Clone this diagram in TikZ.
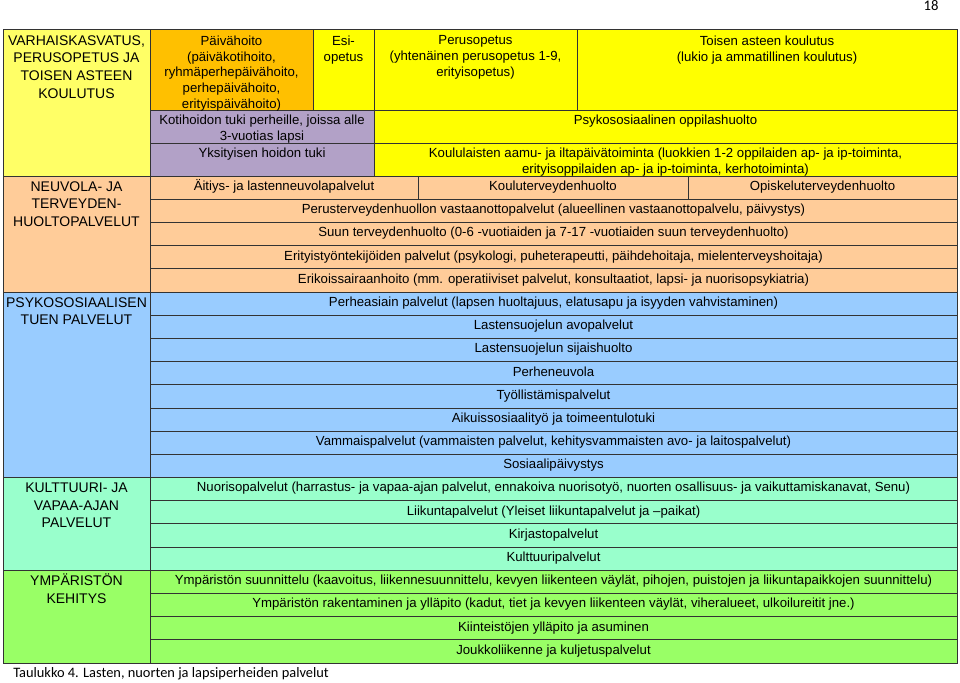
\documentclass[tikz,border=0pt]{standalone}
\usepackage{fontspec}
\setmainfont{Liberation Sans}
\newfontfamily\calibri{Carlito}
\usepackage{xcolor}
\usepackage{tikz}
\usetikzlibrary{calc, positioning}

\definecolor{vaalkelt}{HTML}{FFFF66}
\definecolor{oranssi}{HTML}{FFC000}
\definecolor{keltainen}{HTML}{FFFF00}
\definecolor{violetti}{HTML}{B2A1C7}
\definecolor{persikka}{HTML}{FFCC99}
\definecolor{sininen}{HTML}{99CCFF}
\definecolor{turkoosi}{HTML}{99FFCC}
\definecolor{vihrea}{HTML}{99FF66}

\begin{document}
\begin{tikzpicture}[x=0.75pt, y=-0.75pt,
    solu/.style={anchor=north, inner sep=0pt, align=center, font=\fontsize{9.9}{11.85}\selectfont},
    rivi/.style={anchor=base, inner sep=0pt, font=\fontsize{9.9}{11.85}\selectfont},
    otsikko/.style={anchor=north, inner sep=0pt, align=center, font=\fontsize{10.5}{13.3}\selectfont},
    viiva/.style={draw=black!80, line width=0.6pt}]
    \useasboundingbox (0,0) rectangle (960,682);

    % Taustavärit
    \fill[vaalkelt] (3,29) rectangle (150,176);
    \fill[oranssi] (150,29) rectangle (313,110);
    \fill[keltainen] (313,29) rectangle (957,110);
    \fill[violetti] (150,110) rectangle (374,176);
    \fill[keltainen] (374,110) rectangle (957,176);
    \fill[persikka] (3,176) rectangle (957,{176+23.19*5});
    \fill[sininen] (3,{176+23.19*5}) rectangle (957,{176+23.19*13});
    \fill[turkoosi] (3,{176+23.19*13}) rectangle (957,{176+23.19*17});
    \fill[vihrea] (3,{176+23.19*17}) rectangle (957,663);

    % Viivat
    \draw[viiva] (150,29) -- (150,663);
    \draw[viiva] (313,29) -- (313,110) (374,29) -- (374,176) (577,29) -- (577,110);
    \draw[viiva] (150,110) -- (957,110) (150,143) -- (957,143) (3,176) -- (957,176);
    \foreach \k in {1,...,20}
        \draw[viiva] (150,{176+23.19*\k}) -- (957,{176+23.19*\k});
    \foreach \k in {5,13,17}
        \draw[viiva] (3,{176+23.19*\k}) -- (150,{176+23.19*\k});
    \draw[viiva] (418,176) -- (418,{176+23.19}) (688,176) -- (688,{176+23.19});
    \draw[viiva] (3,29) rectangle (957,663);

    % Vasen sarake
    \node[otsikko] (varh) at (76.5,35) {VARHAISKASVATUS,\\PERUSOPETUS JA\\TOISEN ASTEEN\\KOULUTUS};
    \node[otsikko] (neuv) at (76.5,181) {NEUVOLA- JA\\TERVEYDEN-\\HUOLTOPALVELUT};
    \node[otsikko] (psyko) at (76.5,297) {PSYKOSOSIAALISEN\\TUEN PALVELUT};
    \node[otsikko] (kult) at (76.5,482.5) {KULTTUURI- JA\\VAPAA-AJAN\\PALVELUT};
    \node[otsikko] (ymp) at (76.5,574) {YMPÄRISTÖN\\KEHITYS};

    % Yläosa
    \node[solu] (paiva) at (231.5,35.5) {Päivähoito\\(päiväkotihoito,\\ryhmäperhepäivähoito,\\perhepäivähoito,\\erityispäivähoito)};
    \node[solu] (esi) at (343.5,35.5) {Esi-\\opetus};
    \node[solu] (perus) at (475.5,35.5) {Perusopetus\\(yhtenäinen perusopetus 1-9,\\erityisopetus)};
    \node[solu] (toinen) at (767,35.5) {Toisen asteen koulutus\\(lukio ja ammatillinen koulutus)};
    \node[solu] (koti) at (262,115) {Kotihoidon tuki perheille, joissa alle\\3-vuotias lapsi};
    \node[solu] (yksit) at (262,148) {Yksityisen hoidon tuki};
    \node[solu] (oppil) at (665.5,115) {Psykososiaalinen oppilashuolto};
    \node[solu] (koulul) at (665.5,148) {Koululaisten aamu- ja iltapäivätoiminta (luokkien 1-2 oppilaiden ap- ja ip-toiminta,\\erityisoppilaiden ap- ja ip-toiminta, kerhotoiminta)};

    % Rivit
    \node[rivi] (aitiys) at (284,190.5) {Äitiys- ja lastenneuvolapalvelut};
    \node[rivi] (kouluterv) at (553,190.5) {Kouluterveydenhuolto};
    \node[rivi] (opisk) at (822.5,190.5) {Opiskeluterveydenhuolto};
    \foreach \t [count=\k] in {
        {Perusterveydenhuollon vastaanottopalvelut (alueellinen vastaanottopalvelu, päivystys)},
        {Suun terveydenhuolto (0-6 -vuotiaiden ja 7-17 -vuotiaiden suun terveydenhuolto)},
        {Erityistyöntekijöiden palvelut (psykologi, puheterapeutti, päihdehoitaja, mielenterveyshoitaja)},
        {Erikoissairaanhoito (mm. operatiiviset palvelut, konsultaatiot, lapsi- ja nuorisopsykiatria)},
        {Perheasiain palvelut (lapsen huoltajuus, elatusapu ja isyyden vahvistaminen)},
        {Lastensuojelun avopalvelut},
        {Lastensuojelun sijaishuolto},
        {Perheneuvola},
        {Työllistämispalvelut},
        {Aikuissosiaalityö ja toimeentulotuki},
        {Vammaispalvelut (vammaisten palvelut, kehitysvammaisten avo- ja laitospalvelut)},
        {Sosiaalipäivystys},
        {Nuorisopalvelut (harrastus- ja vapaa-ajan palvelut, ennakoiva nuorisotyö, nuorten osallisuus- ja vaikuttamiskanavat, Senu)},
        {Liikuntapalvelut (Yleiset liikuntapalvelut ja –paikat)},
        {Kirjastopalvelut},
        {Kulttuuripalvelut},
        {Ympäristön suunnittelu (kaavoitus, liikennesuunnittelu, kevyen liikenteen väylät, pihojen, puistojen ja liikuntapaikkojen suunnittelu)},
        {Ympäristön rakentaminen ja ylläpito (kadut, tiet ja kevyen liikenteen väylät, viheralueet, ulkoilureitit jne.)},
        {Kiinteistöjen ylläpito ja asuminen},
        {Joukkoliikenne ja kuljetuspalvelut}}
        \node[rivi] (r\k) at (553.5,{176+23.19*\k+14.5}) {\t};

    % Kuvateksti ja sivunumero
    \node[anchor=base west, inner sep=0pt, font=\calibri\fontsize{10.8}{13}\selectfont] (kuvateksti) at (13,677) {Taulukko 4. Lasten, nuorten ja lapsiperheiden palvelut};
    \node[anchor=base, inner sep=0pt, font=\calibri\fontsize{11}{13}\selectfont] (sivu) at (931,10) {18};
\end{tikzpicture}
\end{document}
